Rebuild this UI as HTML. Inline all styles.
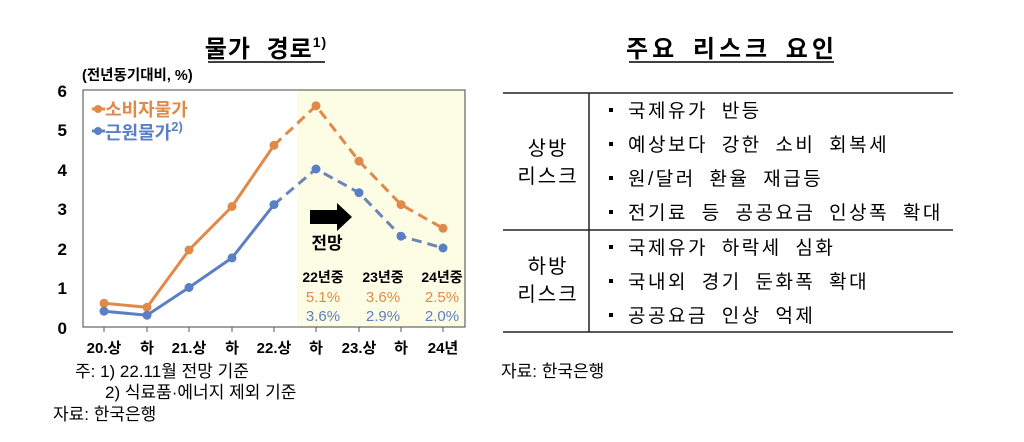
<!DOCTYPE html>
<html><head><meta charset="utf-8"><style>
body{margin:0;background:#fff;width:1024px;height:437px;overflow:hidden}
svg text{font-family:"Liberation Sans","Noto Sans CJK KR",sans-serif}
.s{font-family:"Liberation Serif","Noto Serif CJK SC","Noto Sans CJK KR",serif}
</style></head><body>
<svg width="1024" height="437" viewBox="0 0 1024 437" xmlns="http://www.w3.org/2000/svg">
<text x="266" y="57" text-anchor="middle" font-size="24" font-weight="bold" word-spacing="8" letter-spacing="1" font-family="Noto Sans CJK KR,sans-serif">물가 경로<tspan font-size="14" dy="-10">1)</tspan></text>
<line x1="208" y1="62" x2="325" y2="62" stroke="#000" stroke-width="1.5"/>
<text x="82" y="80" font-size="14.5" font-weight="bold">(전년동기대비, %)</text>
<rect x="297" y="90" width="168" height="237" fill="#fdfde6"/>
<rect x="83" y="90" width="382" height="237" fill="none" stroke="#444" stroke-width="1"/>
<g font-size="17" font-weight="bold" text-anchor="end">
<text x="67" y="97">6</text><text x="67" y="136">5</text><text x="67" y="176">4</text><text x="67" y="215">3</text><text x="67" y="255">2</text><text x="67" y="294">1</text><text x="67" y="334">0</text>
</g>
<g stroke="#555" stroke-width="1">
<line x1="104" y1="327" x2="104" y2="332"/><line x1="147" y1="327" x2="147" y2="332"/><line x1="189" y1="327" x2="189" y2="332"/><line x1="232" y1="327" x2="232" y2="332"/><line x1="274" y1="327" x2="274" y2="332"/><line x1="316" y1="327" x2="316" y2="332"/><line x1="359" y1="327" x2="359" y2="332"/><line x1="401" y1="327" x2="401" y2="332"/><line x1="443" y1="327" x2="443" y2="332"/>
</g>
<g font-size="15" font-weight="bold" text-anchor="middle">
<text x="104" y="353">20.상</text><text x="147" y="353">하</text><text x="189" y="353">21.상</text><text x="232" y="353">하</text><text x="274" y="353">22.상</text><text x="316" y="353">하</text><text x="359" y="353">23.상</text><text x="401" y="353">하</text><text x="443" y="353">24년</text>
</g>
<polyline points="104,303.3 147,307.3 189,250 232,206.5 274,145.3" fill="none" stroke="#e08a4a" stroke-width="3"/>
<polyline points="274,145.3 316,105.8 359,161.1 401,204.6 443,228.3" fill="none" stroke="#e08a4a" stroke-width="3" stroke-dasharray="10,6"/>
<polyline points="104,311.2 147,315.2 189,287.5 232,257.9 274,204.6" fill="none" stroke="#5b7fc4" stroke-width="3"/>
<polyline points="274,204.6 316,169 359,192.7 401,236.2 443,248" fill="none" stroke="#6a86b8" stroke-width="3" stroke-dasharray="10,6"/>
<g fill="#e08a4a"><circle cx="104" cy="303.3" r="4.5"/><circle cx="147" cy="307.3" r="4.5"/><circle cx="189" cy="250" r="4.5"/><circle cx="232" cy="206.5" r="4.5"/><circle cx="274" cy="145.3" r="4.5"/><circle cx="316" cy="105.8" r="4.5"/><circle cx="359" cy="161.1" r="4.5"/><circle cx="401" cy="204.6" r="4.5"/><circle cx="443" cy="228.3" r="4.5"/></g>
<g fill="#5b7fc4"><circle cx="104" cy="311.2" r="4.5"/><circle cx="147" cy="315.2" r="4.5"/><circle cx="189" cy="287.5" r="4.5"/><circle cx="232" cy="257.9" r="4.5"/><circle cx="274" cy="204.6" r="4.5"/><circle cx="316" cy="169" r="4.5"/><circle cx="359" cy="192.7" r="4.5"/><circle cx="401" cy="236.2" r="4.5"/><circle cx="443" cy="248" r="4.5"/></g>
<line x1="92" y1="109" x2="105" y2="109" stroke="#e08a4a" stroke-width="3"/><circle cx="98" cy="109" r="4" fill="#e08a4a"/>
<text x="105" y="116" font-size="18" font-weight="bold" fill="#e08a4a">소비자물가</text>
<line x1="92" y1="131" x2="105" y2="131" stroke="#5b7fc4" stroke-width="3"/><circle cx="98" cy="131" r="4" fill="#5b7fc4"/>
<text x="105" y="139" font-size="18" font-weight="bold" fill="#5b7fc4">근원물가<tspan font-size="13" dy="-8">2)</tspan></text>
<polygon points="310,210 337,210 337,203 352,217 337,231 337,224 310,224" fill="#000"/>
<text x="327" y="249" font-size="17" font-weight="bold" text-anchor="middle">전망</text>
<g font-size="14" font-weight="bold" text-anchor="middle">
<text x="323" y="282">22년중</text><text x="383" y="282">23년중</text><text x="442" y="282">24년중</text>
</g>
<g font-size="15" text-anchor="middle" class="s">
<text x="323" y="302" fill="#e08a4a">5.1%</text><text x="383" y="302" fill="#e08a4a">3.6%</text><text x="442" y="302" fill="#e08a4a">2.5%</text>
<text x="323" y="321" fill="#5b7fc4">3.6%</text><text x="383" y="321" fill="#5b7fc4">2.9%</text><text x="442" y="321" fill="#5b7fc4">2.0%</text>
</g>
<g font-size="17" class="s">
<text x="75" y="377">주: 1) 22.11월 전망 기준</text>
<text x="105" y="398">2) 식료품·에너지 제외 기준</text>
<text x="53" y="420">자료: 한국은행</text>
<text x="501" y="377">자료: 한국은행</text>
</g>
<text x="732" y="57" text-anchor="middle" font-size="24" font-weight="bold" font-family="Noto Sans CJK KR,sans-serif" letter-spacing="4" word-spacing="4">주요 리스크 요인</text>
<line x1="629" y1="62" x2="834" y2="62" stroke="#000" stroke-width="1.5"/>
<g stroke="#222" stroke-width="1.5">
<line x1="503" y1="93" x2="953" y2="93"/><line x1="503" y1="230" x2="953" y2="230"/><line x1="503" y1="332" x2="953" y2="332"/><line x1="589" y1="93" x2="589" y2="332"/>
</g>
<g font-size="20" class="s" text-anchor="middle" letter-spacing="2">
<text x="548" y="155">상방</text><text x="548" y="183">리스크</text>
<text x="548" y="273">하방</text><text x="548" y="301">리스크</text>
</g>
<g font-size="19" class="s" letter-spacing="2.5" word-spacing="6">
<text x="628" y="117">국제유가 반등</text>
<text x="628" y="151">예상보다 강한 소비 회복세</text>
<text x="628" y="185">원/달러 환율 재급등</text>
<text x="628" y="219">전기료 등 공공요금 인상폭 확대</text>
<text x="628" y="254">국제유가 하락세 심화</text>
<text x="628" y="288">국내외 경기 둔화폭 확대</text>
<text x="628" y="322">공공요금 인상 억제</text>
</g>
<g fill="#000">
<rect x="609" y="108" width="4" height="4"/><rect x="609" y="142" width="4" height="4"/><rect x="609" y="176" width="4" height="4"/><rect x="609" y="210" width="4" height="4"/><rect x="609" y="245" width="4" height="4"/><rect x="609" y="279" width="4" height="4"/><rect x="609" y="313" width="4" height="4"/>
</g>
</svg>
</body></html>
